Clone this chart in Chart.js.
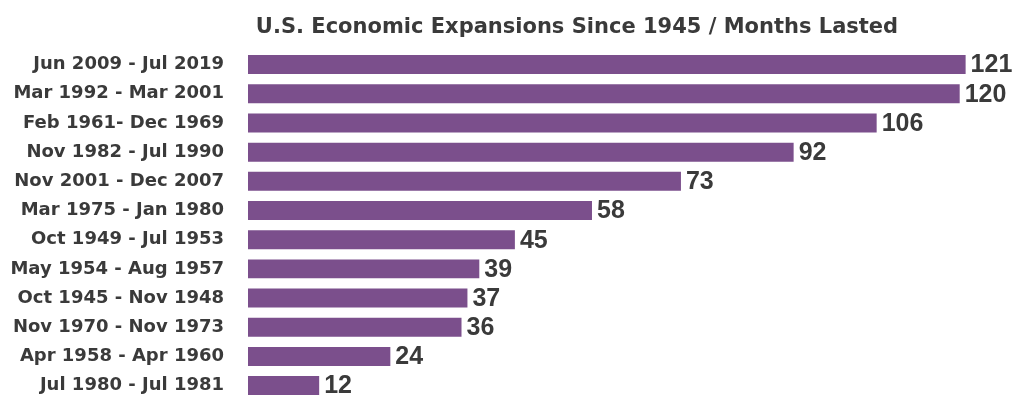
<!DOCTYPE html>
<html>
<head>
<meta charset="utf-8">
<script src="https://cdn.jsdelivr.net/npm/chart.js@4"></script>
<style>
  html, body { margin: 0; padding: 0; background: #fff; overflow: hidden; }
  canvas { display: block; }
</style>
</head>
<body>
<canvas id="plot" width="1029" height="427"></canvas>
<script>
// Data
const TITLE = 'U.S. Economic Expansions Since 1945 / Months Lasted';
const periods = [
    'Jun 2009 - Jul 2019',
    'Mar 1992 - Mar 2001',
    'Feb 1961- Dec 1969',
    'Nov 1982 - Jul 1990',
    'Nov 2001 - Dec 2007',
    'Mar 1975 - Jan 1980',
    'Oct 1949 - Jul 1953',
    'May 1954 - Aug 1957',
    'Oct 1945 - Nov 1948',
    'Nov 1970 - Nov 1973',
    'Apr 1958 - Apr 1960',
    'Jul 1980 - Jul 1981'
];
const months = [121, 120, 106, 92, 73, 58, 45, 39, 37, 36, 24, 12];

const BAR_COLOR = '#7b4f8c';
const TEXT_COLOR = '#3a3a3a';
const FONT = '"DejaVu Sans", sans-serif';
const NUM_FONT = '"Liberation Sans", Arial, sans-serif';

// Title drawn centred over the bars, value labels at bar ends
const labelsPlugin = {
    id: 'valueLabels',
    afterDatasetsDraw: chart => {
        const {ctx} = chart;
        ctx.save();
        ctx.fillStyle = TEXT_COLOR;
        ctx.font = 'bold 21px ' + FONT;
        ctx.textAlign = 'center';
        ctx.textBaseline = 'middle';
        ctx.fillText(TITLE, 577, 28);

        ctx.font = 'bold 25px ' + NUM_FONT;
        ctx.textAlign = 'left';
        const meta = chart.getDatasetMeta(0);
        meta.data.forEach((bar, i) => {
            ctx.fillText(String(months[i]), bar.x + 5, bar.y + 1);
        });
        ctx.restore();
    }
};

const ctx = document.getElementById('plot').getContext('2d');
new Chart(ctx, {
    type: 'bar',
    data: {
        labels: periods,
        datasets: [{
            data: months,
            backgroundColor: BAR_COLOR,
            borderWidth: 0,
            barPercentage: 0.65,
            categoryPercentage: 1
        }]
    },
    options: {
        indexAxis: 'y',
        responsive: false,
        animation: false,
        layout: {padding: {top: 50, right: 10, bottom: 0, left: 0}},
        scales: {
            x: {
                display: false,
                min: 0,
                max: 130
            },
            y: {
                grid: {display: false},
                border: {display: false},
                ticks: {
                    color: TEXT_COLOR,
                    font: {family: FONT, size: 18, weight: 'bold'},
                    padding: 16
                },
                afterFit: scale => { scale.width = 248; }
            }
        },
        plugins: {
            legend: {display: false},
            title: {display: false},
            tooltip: {enabled: false}
        }
    },
    plugins: [labelsPlugin]
});
</script>
</body>
</html>
